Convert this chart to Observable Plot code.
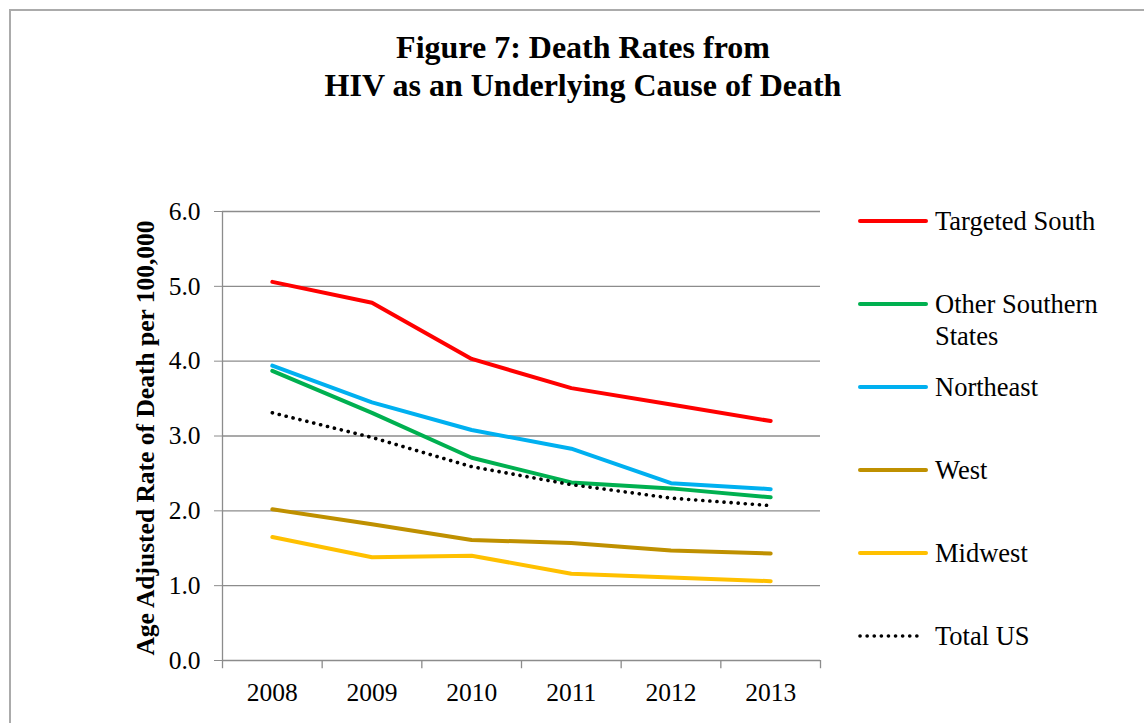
<!DOCTYPE html>
<html>
<head>
<meta charset="utf-8">
<script src="https://cdn.jsdelivr.net/npm/d3@7"></script>
<script src="https://cdn.jsdelivr.net/npm/@observablehq/plot@0.6"></script>
<style>
  html, body { margin: 0; padding: 0; background: #fff; }
  body { font-family: "Liberation Serif", "Times New Roman", serif; }
  #wrap { position: relative; width: 1144px; height: 723px; overflow: hidden; }
  #border { position: absolute; left: 9px; top: 9px; width: 1200px; height: 800px;
            border-left: 2px solid #ababab; border-top: 2px solid #ababab; }
  #title { position: absolute; left: 0; top: 28px; width: 1166px; text-align: center;
           font-weight: bold; font-size: 32px; line-height: 38px; color: #000; }
  #ylabel { position: absolute; width: 520px; left: -114px; top: 423px; height: 30px;
            text-align: center; font-weight: bold; font-size: 25.5px; line-height: 30px;
            transform: rotate(-90deg); transform-origin: 260px 15px; white-space: nowrap; }
  #chart { position: absolute; left: 0; top: 0; }
  .leg { position: absolute; left: 857px; display: flex; align-items: flex-start; }
  .leg svg { flex: none; margin-top: 11px; }
  .leg span { margin-left: 6px; font-size: 26.5px; line-height: 32px; width: 190px; color: #000; }
</style>
</head>
<body>
<div id="wrap">
  <div id="border"></div>
  <div id="title">Figure 7: Death Rates from<br>HIV as an Underlying Cause of Death</div>
  <div id="ylabel">Age Adjusted Rate of Death per 100,000</div>
  <div id="chart"></div>
</div>
<script>
const years = [2008, 2009, 2010, 2011, 2012, 2013];
const seriesNames = ["Targeted South", "Other Southern States", "Northeast", "West", "Midwest", "Total US"];
const seriesColors = ["#FF0000", "#00B050", "#00B0F0", "#BF9000", "#FFC000", "#000000"];
const targetedSouth = [5.06, 4.78, 4.03, 3.64, 3.42, 3.20];
const otherSouthern = [3.87, 3.31, 2.71, 2.38, 2.30, 2.18];
const northeast = [3.94, 3.45, 3.08, 2.83, 2.37, 2.29];
const west = [2.02, 1.82, 1.61, 1.57, 1.47, 1.43];
const midwest = [1.65, 1.38, 1.40, 1.16, 1.11, 1.06];
const totalUS = [3.31, 2.98, 2.59, 2.35, 2.17, 2.07];
const yTicks = [0, 1, 2, 3, 4, 5, 6];

const seriesValues = [targetedSouth, otherSouthern, northeast, west, midwest, totalUS];
const rows = [];
seriesNames.forEach((name, i) => {
  years.forEach((yr, j) => rows.push({series: name, year: yr, value: seriesValues[i][j]}));
});
const solidRows = rows.filter(d => d.series !== "Total US");
const totalRows = rows.filter(d => d.series === "Total US");
const bounds = years.map(y => y - 0.5).concat([years[years.length - 1] + 0.5]);

const W = 1144, H = 723;
const plot = Plot.plot({
  width: W, height: H,
  marginLeft: 222, marginRight: 324, marginTop: 211, marginBottom: 63,
  style: { fontFamily: '"Liberation Serif", "Times New Roman", serif', fontSize: "25px", background: "transparent", color: "#000", overflow: "visible" },
  x: { type: "linear", domain: [bounds[0], bounds[bounds.length - 1]] },
  y: { domain: [0, 6] },
  color: { domain: seriesNames, range: seriesColors },
  marks: [
    Plot.ruleY(yTicks, { stroke: "#8c8c8c", strokeWidth: 1.3 }),
    Plot.ruleX([bounds[0]], { y1: 0, y2: 6, stroke: "#8c8c8c", strokeWidth: 1.3 }),
    Plot.ruleX(bounds, { y1: 0, y2: -0.11, stroke: "#8c8c8c", strokeWidth: 1.3 }),
    Plot.axisY({ ticks: yTicks, tickFormat: d => d.toFixed(1), tickSize: 8, tickPadding: 14, stroke: "#8c8c8c", label: null, fontSize: 25.5 }),
    Plot.axisX({ ticks: years, tickFormat: d => String(d), tickSize: 0, tickPadding: 22, label: null, fontSize: 25.5 }),
    Plot.line(solidRows, { x: "year", y: "value", z: "series", stroke: "series", strokeWidth: 4, strokeLinecap: "round", strokeLinejoin: "round" }),
    Plot.line(totalRows, { x: "year", y: "value", stroke: "series", strokeWidth: 3.6, strokeLinecap: "round", strokeDasharray: "0.1 7" })
  ]
});
document.getElementById("chart").appendChild(plot);

// legend
const wrap = document.getElementById("wrap");
seriesNames.forEach((name, i) => {
  const item = document.createElement("div");
  item.className = "leg";
  item.style.top = (221 + 83 * i - 16) + "px";
  const dashed = name === "Total US";
  item.innerHTML = `<svg width="72" height="10"><line x1="3" y1="5" x2="${dashed ? 66 : 69}" y2="5" stroke="${seriesColors[i]}" stroke-width="${dashed ? 3.6 : 4}" stroke-linecap="round" ${dashed ? 'stroke-dasharray="0.1 7"' : ''}/></svg><span>${name}</span>`;
  wrap.appendChild(item);
});
</script>
</body>
</html>
